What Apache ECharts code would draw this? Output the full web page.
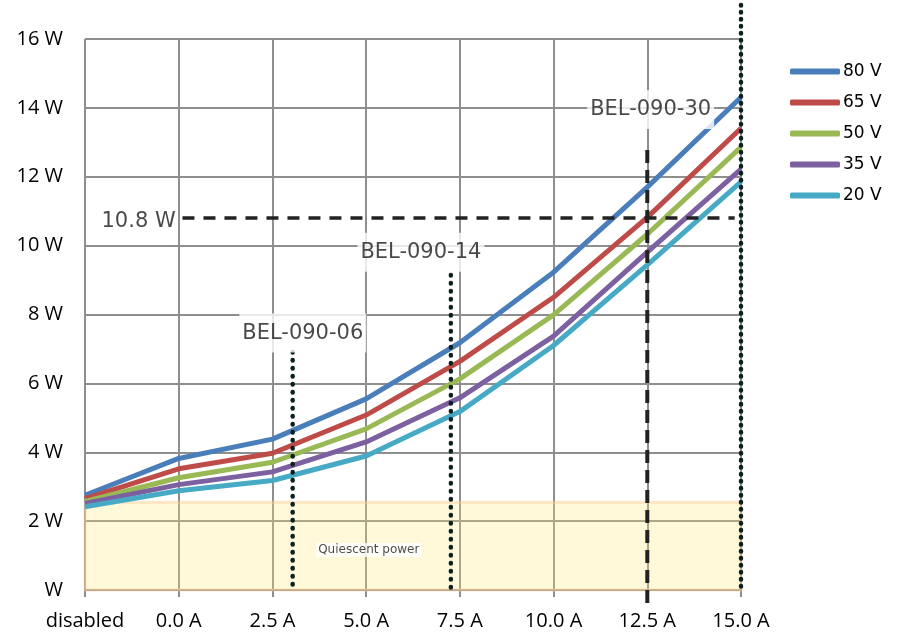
<!DOCTYPE html>
<html>
<head>
<meta charset="utf-8">
<script src="https://cdn.jsdelivr.net/npm/echarts@6/dist/echarts.min.js"></script>
<style>
html,body{margin:0;padding:0;background:#fff;}
#chart{width:898px;height:632px;}
</style>
</head>
<body>
<div id="chart"></div>
<script>
// Categories along the x axis and their position in amps ("disabled" placed one step left of 0 A)
const categories = ['disabled', '0.0 A', '2.5 A', '5.0 A', '7.5 A', '10.0 A', '12.5 A', '15.0 A'];
const currentAmps = [-2.5, 0, 2.5, 5, 7.5, 10, 12.5, 15];

// Power in W for each supply voltage
const seriesNames = ['80 V', '65 V', '50 V', '35 V', '20 V'];
const v80 = [2.75, 3.82, 4.38, 5.55, 7.18, 9.23, 11.70, 14.31];
const v65 = [2.65, 3.52, 3.97, 5.08, 6.64, 8.50, 10.82, 13.41];
const v50 = [2.57, 3.26, 3.71, 4.68, 6.13, 7.99, 10.33, 12.86];
const v35 = [2.51, 3.06, 3.43, 4.30, 5.58, 7.37, 9.81, 12.22];
const v20 = [2.42, 2.88, 3.18, 3.89, 5.18, 7.10, 9.44, 11.85];
const seriesValues = [v80, v65, v50, v35, v20];
const colors = ['#4a7ebb', '#be4b48', '#98b954', '#7d60a0', '#46aac5'];

// Y tick labels
const yTicks = [0, 2, 4, 6, 8, 10, 12, 14, 16];
const yTickLabels = ['W', '2 W', '4 W', '6 W', '8 W', '10 W', '12 W', '14 W', '16 W'];

// Reference values
const quiescentPower = 2.55;
const limitPower = 10.8;
const bel06Amps = 3.04;
const bel14Amps = 7.26;
const bel30Amps = 12.5;
const maxAmps = 15;

const chart = echarts.init(document.getElementById('chart'), null, {renderer: 'canvas'});

const lineSeries = seriesNames.map((name, i) => ({
  name: name,
  type: 'line',
  data: currentAmps.map((a, j) => [a, seriesValues[i][j]]),
  showSymbol: false,
  symbol: 'none',
  lineStyle: {color: colors[i], width: 5},
  itemStyle: {color: colors[i]},
  z: 3,
  animation: false
}));

function refLine(points, dash, width, color, cap) {
  return {
    type: 'line',
    data: points,
    showSymbol: false,
    symbol: 'none',
    clip: false,
    silent: true,
    lineStyle: {color: color, width: width, type: dash, cap: cap},
    z: 5,
    animation: false
  };
}

const annotations = [
  {value: [-1.07, 10.7], name: '10.8 W', bg: 'transparent', size: 21},
  {value: [3.31, 7.46], name: 'BEL-090-06', bg: '#fff', size: 21},
  {value: [6.46, 9.81], name: 'BEL-090-14', bg: '#fff', size: 21},
  {value: [12.59, 13.95], name: 'BEL-090-30', bg: '#fff', size: 21},
  {value: [5.07, 1.16], name: 'Quiescent power', bg: '#fff', size: 12}
];

const option = {
  backgroundColor: '#fff',
  animation: false,
  color: colors,
  grid: {left: 85, right: 157, top: 39, bottom: 42, containLabel: false, outerBoundsMode: 'none'},
  legend: {
    data: seriesNames,
    orient: 'vertical',
    left: 790,
    top: 63,
    padding: 0,
    itemWidth: 50,
    itemHeight: 6,
    itemGap: 14,
    icon: 'roundRect',
    textStyle: {fontFamily: 'DejaVu Sans', fontSize: 17, color: '#000', padding: [0, 0, 0, -2]}
  },
  xAxis: {
    type: 'value',
    min: -2.5,
    max: 15,
    interval: 2.5,
    axisLine: {show: true, lineStyle: {color: '#8e8e8e', width: 2}},
    axisTick: {show: true, length: 7, lineStyle: {color: '#8e8e8e', width: 2}},
    splitLine: {show: true, lineStyle: {color: '#8e8e8e', width: 2}},
    axisLabel: {
      margin: 21,
      fontFamily: 'Open Sans',
      fontSize: 20,
      color: '#000',
      formatter: function (v) {
        const idx = currentAmps.indexOf(v);
        return idx >= 0 ? categories[idx] : '';
      }
    }
  },
  yAxis: {
    type: 'value',
    min: 0,
    max: 16,
    interval: 2,
    axisLine: {show: true, lineStyle: {color: '#8e8e8e', width: 2}},
    axisTick: {show: true, length: 7, lineStyle: {color: '#8e8e8e', width: 2}},
    splitLine: {show: true, lineStyle: {color: '#8e8e8e', width: 2}},
    axisLabel: {
      margin: 22,
      fontFamily: 'Open Sans',
      fontSize: 20,
      color: '#000',
      formatter: function (v) {
        const idx = yTicks.indexOf(v);
        return idx >= 0 ? yTickLabels[idx] : '';
      }
    }
  },
  series: [
    {
      type: 'line',
      data: [],
      silent: true,
      z: 1,
      markArea: {
        silent: true,
        itemStyle: {color: 'rgba(255,230,120,0.28)', borderColor: 'rgba(250,205,150,0.45)', borderWidth: 3},
        data: [[{coord: [currentAmps[0], 0]}, {coord: [maxAmps, quiescentPower]}]]
      }
    },
    ...lineSeries,
    refLine([[0.1, limitPower], [14.83, limitPower]], [12, 9], 3.5, '#222', 'butt'),
    refLine([[bel30Amps, 12.78], [bel30Amps, -0.44]], [13, 7], 4, '#222', 'butt'),
    refLine([[bel06Amps, 6.91], [bel06Amps, 0]], [0.5, 7.5], 4.5, '#0d2020', 'round'),
    refLine([[bel14Amps, 9.15], [bel14Amps, 0]], [0.5, 7.5], 4.5, '#0d2020', 'round'),
    refLine([[maxAmps, 16.99], [maxAmps, -0.05]], [0.5, 6.5], 4.5, '#0d2020', 'round'),
    {
      type: 'scatter',
      symbolSize: 0,
      silent: true,
      z: 6,
      data: annotations.map(a => ({
        value: a.value,
        name: a.name,
        label: {
          show: true,
          position: 'inside',
          formatter: a.name,
          fontFamily: 'DejaVu Sans',
          fontSize: a.size,
          color: '#1a1a1a',
          backgroundColor: a.bg,
          padding: a.size > 14 ? [9, 3] : [1, 2]
        }
      }))
    }
  ]
};
chart.setOption(option);
</script>
</body>
</html>
